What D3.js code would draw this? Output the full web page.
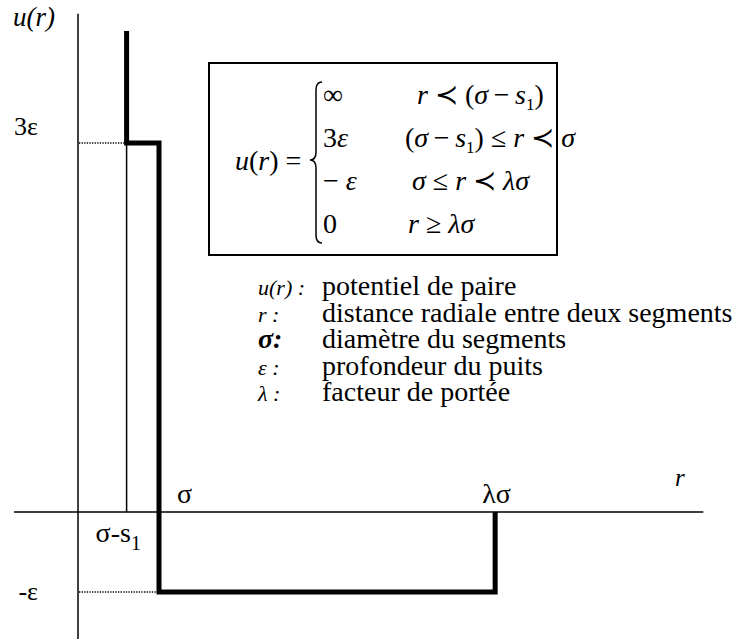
<!DOCTYPE html>
<html>
<head>
<meta charset="utf-8">
<script src="https://cdn.jsdelivr.net/npm/d3@7"></script>
<style>
    body { margin: 0; background: #fff; }
</style>
</head>
<body>
<div id="viz"></div>
<script>

// square-well potential with a hard-core shoulder
// r in units of sigma, u in units of epsilon
var rBreaks = [0.6, 1.0, 5.15];     // sigma - s1, sigma, lambda*sigma
var uLevels = [3, -1, 0];           // 3eps, -eps, 0
var uWallTop = 3.91;                // where the infinite wall is cut
var rAxis = [-0.79, 7.72];
var uAxis = [-1.59, 4.05];
var uTicks = [3, -1];
var uTickLabels = ["3ε", "-ε"];

var legendSymbols = ["u(r) :", "r :", "σ:", "ε :", "λ :"];
var legendTexts = [
    "potentiel de paire",
    "distance radiale entre deux segments",
    "diamètre du segments",
    "profondeur du puits",
    "facteur de portée"
];

// formula rows: [text, italic?, subscript?]
var caseValues = [
    [["∞"]],
    [["3"], ["ε", 1]],
    [["− "], ["ε", 1]],
    [["0"]]
];
var caseConditions = [
    [["r", 1], [" ≺ (", 0], ["σ", 1], ["\u2009−\u2009", 0], ["s", 1], ["1", 0, 1], [")", 0]],
    [["(", 0], ["σ", 1], ["\u2009−\u2009", 0], ["s", 1], ["1", 0, 1], [") ≤ ", 0], ["r", 1], [" ≺ ", 0], ["σ", 1]],
    [["σ", 1], [" ≤ ", 0], ["r", 1], [" ≺ ", 0], ["λσ", 1]],
    [["r", 1], [" ≥ ", 0], ["λσ", 1]]
];
var conditionX = [417, 405, 412, 408];

var width = 752, height = 639;
var serif = "'Liberation Serif', 'Times New Roman', serif";

var svg = d3.select("#viz")
    .append("svg")
    .attr("width", width)
    .attr("height", height);

var x = d3.scaleLinear().domain([0, 1]).range([78, 159]);
// the sketch is not to scale: piecewise scale
var y = d3.scaleLinear().domain([-1, 0, 3]).range([592, 512, 143]);

// axes
svg.append("line")
    .attr("x1", x(rAxis[0])).attr("x2", x(rAxis[1]))
    .attr("y1", y(0)).attr("y2", y(0))
    .style("stroke", "#000").style("stroke-width", 1.5);
svg.append("line")
    .attr("x1", x(0)).attr("x2", x(0))
    .attr("y1", y(uAxis[1])).attr("y2", y(uAxis[0]))
    .style("stroke", "#000").style("stroke-width", 1.5);

// dotted guides
svg.selectAll("line.guide")
    .data(uTicks)
    .enter().append("line")
    .attr("class", "guide")
    .attr("x1", x(0) + 1)
    .attr("x2", function(d, i){ return x(rBreaks[i]) - 2; })
    .attr("y1", function(d){ return y(d); })
    .attr("y2", function(d){ return y(d); })
    .style("stroke", "#000")
    .style("stroke-width", 1.3)
    .style("stroke-dasharray", "1.3,1.3");

// thin line under the shoulder
svg.append("line")
    .attr("x1", x(rBreaks[0])).attr("x2", x(rBreaks[0]))
    .attr("y1", y(uLevels[0])).attr("y2", y(0))
    .style("stroke", "#000").style("stroke-width", 1.5);

// the potential
var steps = [
    [rBreaks[0], uWallTop],
    [rBreaks[0], uLevels[0]],
    [rBreaks[1], uLevels[0]],
    [rBreaks[1], uLevels[1]],
    [rBreaks[2], uLevels[1]],
    [rBreaks[2], uLevels[2]]
];
var line = d3.line()
    .x(function(d){ return x(d[0]); })
    .y(function(d){ return y(d[1]); });
svg.append("path")
    .attr("d", line(steps))
    .style("fill", "none")
    .style("stroke", "#000")
    .style("stroke-width", 5)
    .style("stroke-linejoin", "miter");

// tick labels
svg.selectAll("text.ulab")
    .data(uTicks)
    .enter().append("text")
    .attr("class", "ulab")
    .attr("x", x(0) - 40)
    .attr("y", function(d, i){ return i == 0 ? y(d) - 8 : y(d) + 8; })
    .attr("text-anchor", "end")
    .style("font-size", "26px")
    .text(function(d, i){ return uTickLabels[i]; });

svg.append("text")
    .attr("x", 13).attr("y", 26)
    .style("font-size", "27px").style("font-style", "italic")
    .text("u(r)");

svg.append("text")
    .attr("x", 675).attr("y", 486)
    .style("font-size", "25px").style("font-style", "italic")
    .text("r");

svg.append("text")
    .attr("x", x(rBreaks[1]) + 18).attr("y", y(0) - 9)
    .style("font-size", "28px")
    .text("σ");

svg.append("text")
    .attr("x", x(rBreaks[2]) - 13).attr("y", y(0) - 9)
    .style("font-size", "28px")
    .text("λσ");

var sl = svg.append("text")
    .attr("x", x(rBreaks[0]) - 31).attr("y", y(0) + 30)
    .style("font-size", "28px");
sl.append("tspan").text("σ-s");
sl.append("tspan").attr("dy", 8).style("font-size", "20px").text("1");

// formula box
svg.append("rect")
    .attr("x", 209).attr("y", 63)
    .attr("width", 348).attr("height", 192)
    .style("fill", "none")
    .style("stroke", "#000")
    .style("stroke-width", 2);

var f = svg.append("text")
    .attr("x", 235).attr("y", 170)
    .style("font-size", "28px");
f.append("tspan").style("font-style", "italic").text("u");
f.append("tspan").text("(");
f.append("tspan").style("font-style", "italic").text("r");
f.append("tspan").text(") =");

svg.append("path")
    .attr("d", "M322,82 Q316,82 316,90 L316,152 Q316,160 310,160 Q316,160 316,168 L316,235 Q316,243 322,243")
    .style("fill", "none")
    .style("stroke", "#000")
    .style("stroke-width", 1.5);

function writeRow(sel, parts) {
    var sub = false;
    parts.forEach(function(p){
        var t = sel.append("tspan").text(p[0]);
        if (p[1]) t.style("font-style", "italic");
        if (p[2]) t.attr("dy", 6).style("font-size", "17px");
        else if (sub) t.attr("dy", -6);
        sub = !!p[2];
    });
}

caseValues.forEach(function(row, i){
    var t = svg.append("text")
        .attr("x", 323).attr("y", 104 + i * 43)
        .style("font-size", "28px")
        .style("white-space", "pre");
    writeRow(t, row);
});
caseConditions.forEach(function(row, i){
    var t = svg.append("text")
        .attr("x", conditionX[i]).attr("y", 104 + i * 43)
        .style("font-size", "28px")
        .style("white-space", "pre");
    writeRow(t, row);
});

// legend
svg.selectAll("text.lsym")
    .data(legendSymbols)
    .enter().append("text")
    .attr("class", "lsym")
    .attr("x", 258)
    .attr("y", function(d, i){ return 295 + i * 26.5; })
    .style("font-style", "italic")
    .style("font-weight", function(d, i){ return i == 2 ? "bold" : "normal"; })
    .style("font-size", function(d, i){ return i == 2 ? "28px" : "22px"; })
    .text(function(d){ return d; });

svg.selectAll("text.ltxt")
    .data(legendTexts)
    .enter().append("text")
    .attr("class", "ltxt")
    .attr("x", 322)
    .attr("y", function(d, i){ return 295 + i * 26.5; })
    .style("font-size", "28px")
    .text(function(d){ return d; });

// serif for every label
svg.selectAll("text").style("font-family", serif);

</script>
</body>
</html>
